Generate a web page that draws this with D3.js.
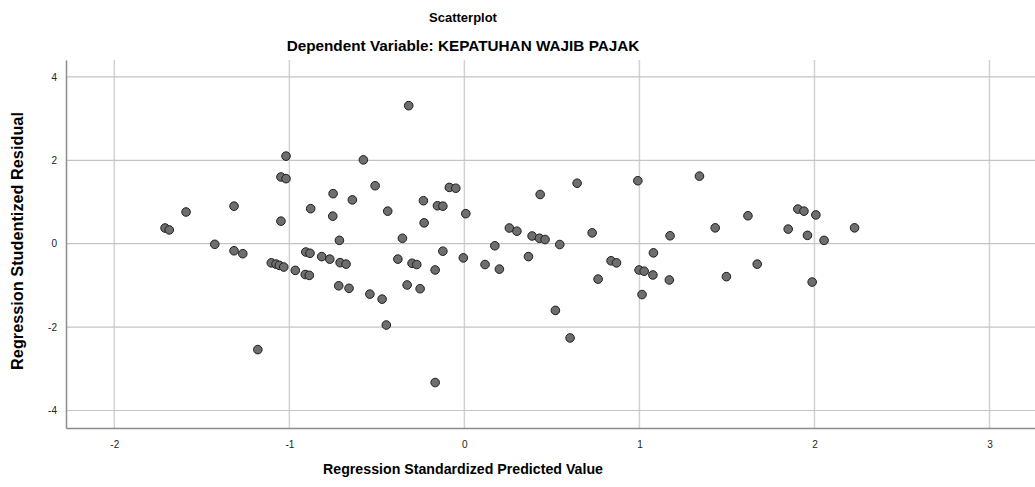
<!DOCTYPE html>
<html>
<head>
<meta charset="utf-8">
<script src="https://cdn.jsdelivr.net/npm/d3@7"></script>
<style>
  body { margin: 0; background: #fff; }
  svg text { font-family: "Liberation Sans", Arial, sans-serif; }
</style>
</head>
<body>
<div id="chart"></div>
<script>
// predicted (standardized) values
var predicted = [
    -1.019, -1.048, -1.019, -1.59, -1.316, -1.71, -1.686, -1.048, -0.878, -1.426,
    -1.316, -1.266, -1.103, -1.076, -1.057, -1.032, -0.966, -0.909, -0.886, -0.906,
    -0.882, -0.815, -0.769, -1.18, -0.318, -0.577, -0.51, -0.75, -0.64, -0.752,
    -0.438, -0.234, -0.086, -0.049, -0.154, -0.123, 0.008, -0.23, -0.714, -0.354,
    0.174, 0.257, 0.30, -0.123, -0.006, -0.71, -0.676, -0.38, -0.299, -0.272,
    0.118, 0.2, -0.167, -0.718, -0.659, -0.54, -0.47, -0.446, -0.327, -0.253,
    -0.167, 0.433, 0.644, 0.991, 1.343, 1.433, 0.387, 0.429, 0.461, 0.73,
    0.545, 1.175, 1.08, 0.366, 0.838, 0.869, 0.998, 1.027, 1.077, 0.764,
    1.171, 1.497, 1.015, 0.52, 0.604, 1.62, 1.905, 1.94, 2.008, 1.85,
    1.96, 2.055, 2.229, 1.673, 1.987
];
// studentized residuals
var residual = [
    2.10, 1.60, 1.56, 0.76, 0.90, 0.376, 0.33, 0.54, 0.84, -0.015,
    -0.17, -0.24, -0.46, -0.49, -0.52, -0.56, -0.64, -0.74, -0.76, -0.20,
    -0.23, -0.31, -0.37, -2.54, 3.31, 2.01, 1.39, 1.20, 1.05, 0.66,
    0.78, 1.03, 1.35, 1.33, 0.91, 0.90, 0.72, 0.50, 0.08, 0.13,
    -0.05, 0.376, 0.30, -0.18, -0.34, -0.455, -0.49, -0.37, -0.47, -0.50,
    -0.50, -0.61, -0.63, -1.01, -1.07, -1.21, -1.33, -1.95, -0.99, -1.08,
    -3.33, 1.18, 1.45, 1.51, 1.62, 0.38, 0.185, 0.13, 0.10, 0.26,
    -0.02, 0.19, -0.22, -0.31, -0.41, -0.46, -0.63, -0.66, -0.75, -0.85,
    -0.87, -0.79, -1.22, -1.60, -2.26, 0.67, 0.83, 0.78, 0.69, 0.35,
    0.20, 0.08, 0.38, -0.49, -0.92
];
var xTicks = [-2, -1, 0, 1, 2, 3];
var yTicks = [-4, -2, 0, 2, 4];

var width = 1035, height = 487;
var plotLeft = 66, plotTop = 60, plotRight = 1035, plotBottom = 428;

var svg = d3.select("#chart").append("svg")
    .attr("width", width)
    .attr("height", height);

var x = d3.scaleLinear().domain([-2.276, 3.26]).range([plotLeft, plotRight]);
var y = d3.scaleLinear().domain([-4.42, 4.405]).range([plotBottom, plotTop]);

// grid
svg.append("g").selectAll("line").data(xTicks).enter().append("line")
    .attr("x1", function (d) { return x(d); })
    .attr("x2", function (d) { return x(d); })
    .attr("y1", plotTop)
    .attr("y2", plotBottom)
    .attr("stroke", "#d2d2d2")
    .attr("stroke-width", 1.5);

svg.append("g").selectAll("line").data(yTicks).enter().append("line")
    .attr("x1", plotLeft)
    .attr("x2", plotRight)
    .attr("y1", function (d) { return y(d); })
    .attr("y2", function (d) { return y(d); })
    .attr("stroke", "#c4c4c4")
    .attr("stroke-width", 1.2);

// axes
var fmt = function (d) { return String(d); };
var xAxis = svg.append("g")
    .attr("transform", "translate(0," + plotBottom + ")")
    .call(d3.axisBottom(x).tickValues(xTicks).tickFormat(fmt).tickSize(0).tickPadding(13));
var yAxis = svg.append("g")
    .attr("transform", "translate(" + plotLeft + ",0)")
    .call(d3.axisLeft(y).tickValues(yTicks).tickFormat(fmt).tickSize(0).tickPadding(9));

[xAxis, yAxis].forEach(function (a) {
    a.select(".domain").attr("stroke", "#8c8c8c").attr("stroke-width", 1.5);
    a.selectAll("text").attr("font-size", 10).attr("fill", "#222");
});

// points
svg.append("g").selectAll("circle").data(predicted).enter().append("circle")
    .attr("cx", function (d) { return x(d); })
    .attr("cy", function (d, i) { return y(residual[i]); })
    .attr("r", 4.3)
    .attr("fill", "#6e6e6e")
    .attr("stroke", "#1e1e1e")
    .attr("stroke-width", 1);

// titles
svg.append("text")
    .attr("x", 463).attr("y", 22)
    .attr("text-anchor", "middle")
    .attr("font-size", 13).attr("font-weight", "bold")
    .text("Scatterplot");

svg.append("text")
    .attr("x", 463).attr("y", 51)
    .attr("text-anchor", "middle")
    .attr("font-size", 15.3).attr("font-weight", "bold")
    .text("Dependent Variable: KEPATUHAN WAJIB PAJAK");

svg.append("text")
    .attr("x", 463).attr("y", 474)
    .attr("text-anchor", "middle")
    .attr("font-size", 14.2).attr("font-weight", "bold")
    .text("Regression Standardized Predicted Value");

svg.append("text")
    .attr("transform", "translate(23,241) rotate(-90)")
    .attr("text-anchor", "middle")
    .attr("font-size", 16.3).attr("font-weight", "bold")
    .text("Regression Studentized Residual");
</script>
</body>
</html>
